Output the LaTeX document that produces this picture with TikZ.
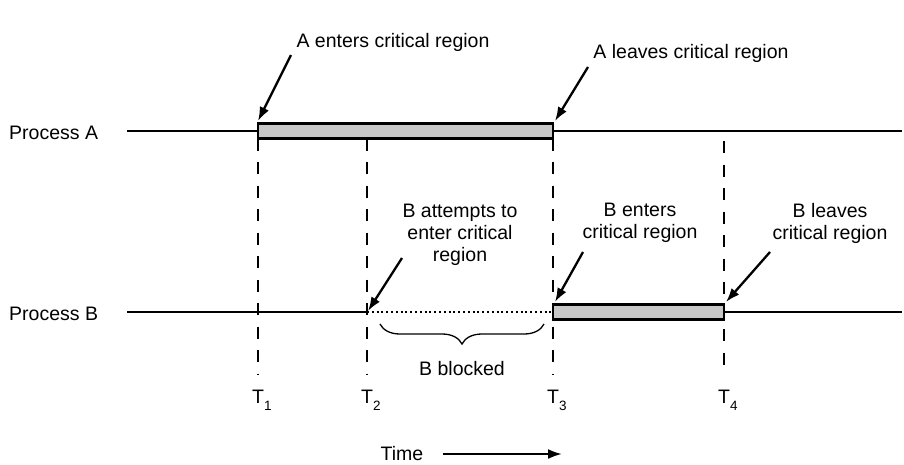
\documentclass[tikz,border=0pt]{standalone}
\usepackage{fontspec}
\setmainfont{Liberation Sans}
\usepackage{tikz}
\usetikzlibrary{arrows.meta, decorations.pathreplacing}
\usepackage{xcolor}
\definecolor{grigio}{RGB}{200,200,200}
\newcommand{\istante}[1]{T\raisebox{-7pt}{\fontsize{13.5}{14}\selectfont #1}}

\begin{document}
\begin{tikzpicture}[x = 1pt, y = -1pt, font = \fontsize{19.5}{22}\selectfont,
    freccia/.style = {line width = 2.3pt, -{Latex[length = 14pt, width = 10pt]}},
    tratteggio/.style = {line width = 2pt, dash pattern = on 12pt off 11.5pt},
    linea/.style = {line width = 2pt}]
    \useasboundingbox (0,0) rectangle (904,464);
    %Parametri
    \pgfmathsetmacro{\yA}{131}
    \pgfmathsetmacro{\yB}{312}
    \pgfmathsetmacro{\h}{7.5}
    % Processo A
    \node[anchor = base west, inner sep = 0] (procA) at (9,139) {Process A};
    \draw[linea] (127,\yA) -- (902,\yA);
    \filldraw[fill = grigio, line width = 2.2pt] (258,\yA-\h) rectangle (553,\yA+\h);
    % Processo B
    \node[anchor = base west, inner sep = 0] (procB) at (9,320) {Process B};
    \draw[linea] (127,\yB) -- (367,\yB);
    \draw[line width = 1.8pt, dash pattern = on 2pt off 2.8pt] (367,\yB) -- (553,\yB);
    \draw[linea] (724,\yB) -- (902,\yB);
    \filldraw[fill = grigio, line width = 2.2pt] (553,\yB-\h) rectangle (724,\yB+\h);
    % Linee tratteggiate
    \draw[tratteggio] (258,\yA+\h) -- (258,375);
    \draw[tratteggio] (367,\yA+\h) -- (367,375);
    \draw[tratteggio] (553,\yA+\h) -- (553,375);
    \draw[tratteggio] (724,141) -- (724,375);
    % Istanti
    \node[anchor = base west, inner sep = 0] (t1) at (252,403) {\istante{1}};
    \node[anchor = base west, inner sep = 0] (t2) at (361,403) {\istante{2}};
    \node[anchor = base west, inner sep = 0] (t3) at (547,403) {\istante{3}};
    \node[anchor = base west, inner sep = 0] (t4) at (718,403) {\istante{4}};
    % A entra
    \node[anchor = base, inner sep = 0] (aEntra) at (393,47) {A enters critical region};
    \coordinate (aEntraDa) at (291,55);
    \coordinate (aEntraA) at (258,121);
    \draw[freccia] (aEntraDa) -- (aEntraA);
    % A esce
    \node[anchor = base, inner sep = 0] (aEsce) at (691,58) {A leaves critical region};
    \coordinate (aEsceDa) at (588,67);
    \coordinate (aEsceA) at (555,121);
    \draw[freccia] (aEsceDa) -- (aEsceA);
    % B prova
    \node[anchor = north, inner sep = 0, align = center] (bProva) at (460,204) {B attempts to\\enter critical\\region};
    \coordinate (bProvaDa) at (402,258);
    \coordinate (bProvaA) at (368,311);
    \draw[freccia] (bProvaDa) -- (bProvaA);
    % B entra
    \node[anchor = north, inner sep = 0, align = center] (bEntra) at (640,203) {B enters\\critical region};
    \coordinate (bEntraDa) at (583,252);
    \coordinate (bEntraA) at (555,302);
    \draw[freccia] (bEntraDa) -- (bEntraA);
    % B esce
    \node[anchor = north, inner sep = 0, align = center] (bEsce) at (830,203) {B leaves\\critical region};
    \coordinate (bEsceDa) at (770,252);
    \coordinate (bEsceA) at (726,302);
    \draw[freccia] (bEsceDa) -- (bEsceA);
    % B bloccato
    \draw[line width = 1.3pt, decorate, decoration = {brace, mirror, amplitude = 20pt}] (380,324) -- (544,324);
    \node[anchor = base, inner sep = 0] (bBlocco) at (462,375) {B blocked};
    % Tempo
    \node[anchor = base, inner sep = 0] (tempo) at (402,460) {Time};
    \coordinate (tempoDa) at (443,454);
    \coordinate (tempoA) at (562,454);
    \draw[freccia] (tempoDa) -- (tempoA);
\end{tikzpicture}
\end{document}
